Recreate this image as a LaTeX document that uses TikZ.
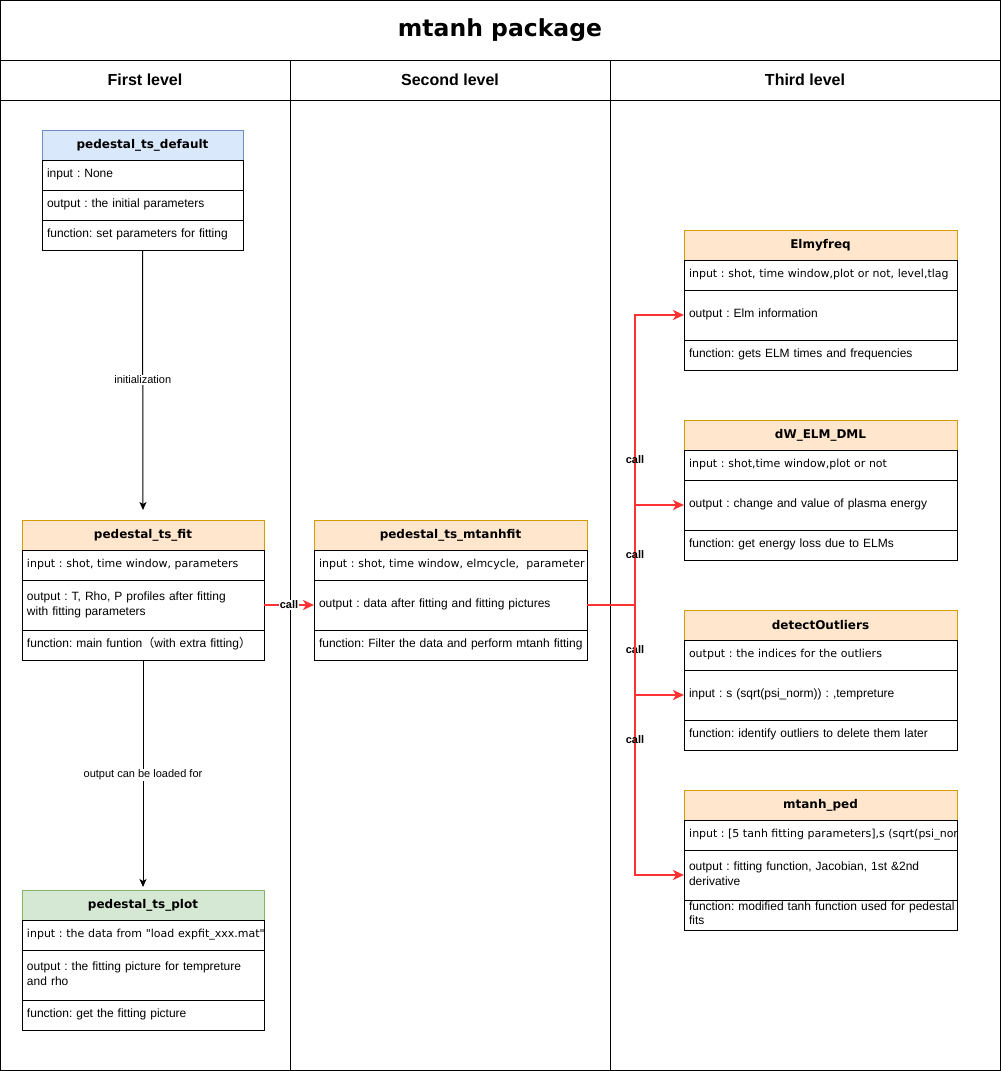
\documentclass[tikz,border=0pt]{standalone}
\usepackage{fontspec}
\setmainfont{Liberation Sans}
\newfontfamily\verdfont{DejaVu Sans}
\newfontfamily\cjkfont{Noto Sans CJK SC}
\usetikzlibrary{arrows.meta,positioning}
\frenchspacing

\definecolor{bluefill}{HTML}{DAE8FC}
\definecolor{bluedraw}{HTML}{6C8EBF}
\definecolor{orangefill}{HTML}{FFE6CC}
\definecolor{orangedraw}{HTML}{D79B00}
\definecolor{greenfill}{HTML}{D5E8D4}
\definecolor{greendraw}{HTML}{82B366}
\definecolor{callred}{HTML}{FF3333}

% one unbroken line (or lines split by \\) inside a row
\newcommand{\rowtxt}[1]{\begin{tabular}{@{}l@{}}#1\end{tabular}}

\tikzset{
  hdr/.style={draw=#1draw, fill=#1fill, line width=1pt, anchor=north west,
    inner sep=0pt, outer sep=0pt, minimum height=30pt,
    font=\verdfont\bfseries\fontsize{12}{14}\selectfont},
  row/.style={draw=black, fill=white, line width=1pt, anchor=north west,
    inner xsep=5pt, inner ysep=0pt, outer sep=0pt, align=left,
    minimum height=#1, font=\fontsize{12}{14.5}\selectfont},
  rowv/.style={row=#1, font=\verdfont\fontsize{11}{14}\selectfont},
  blackarrow/.style={draw=black, line width=1pt, -{Stealth[length=8pt,width=7pt,inset=2pt]}},
  callarrow/.style={draw=callred, line width=2pt, -{Stealth[length=11pt,width=10pt,inset=3pt]}},
  lbl/.style={fill=white, inner sep=1pt, font=\fontsize{11}{13}\selectfont},
  calllbl/.style={inner sep=1pt, font=\bfseries\fontsize{11}{13}\selectfont}
}

\begin{document}
\begin{tikzpicture}[x=1pt, y=-1pt]
\useasboundingbox (0,0) rectangle (1001,1071);

% frame and lanes
\draw[line width=1pt] (0.5,0.5) rectangle (1000.5,1070.5);
\draw[line width=1pt] (0.5,60.5) -- (1000.5,60.5);
\draw[line width=1pt] (0.5,100.5) -- (1000.5,100.5);
\draw[line width=1pt] (290.5,60.5) -- (290.5,1070.5);
\draw[line width=1pt] (610.5,60.5) -- (610.5,1070.5);

\node[font=\verdfont\bfseries\fontsize{23.5}{28}\selectfont] (title) at (500,30) {mtanh package};
\node[font=\bfseries\fontsize{16}{19}\selectfont] (lvlone) at (145,80) {First level};
\node[font=\bfseries\fontsize{16}{19}\selectfont] (lvltwo) at (450,80) {Second level};
\node[font=\bfseries\fontsize{16}{19}\selectfont] (lvlthree) at (805,80) {Third level};

% first level
\node[hdr=blue, minimum width=201pt] (dflt) at (42,130) {pedestal\_ts\_default};
\node[row=30pt, text width=191pt] (dfltin) at (dflt.south west) {\rowtxt{input : None}};
\node[row=30pt, text width=191pt] (dfltout) at (dfltin.south west) {\rowtxt{output : the initial parameters}};
\node[row=30pt, text width=191pt] (dfltfun) at (dfltout.south west) {\rowtxt{function: set parameters for fitting}};

\node[hdr=orange, minimum width=242pt] (fit) at (22,520) {pedestal\_ts\_fit};
\node[rowv=30pt, text width=232pt] (fitin) at (fit.south west) {\rowtxt{input : shot, time window, parameters}};
\node[row=50pt, text width=232pt] (fitout) at (fitin.south west) {\rowtxt{output : T, Rho, P profiles after fitting\\with fitting parameters}};
\node[row=30pt, text width=232pt] (fitfun) at (fitout.south west) {\rowtxt{function: main funtion{\cjkfont （}with extra fitting{\cjkfont ）}}};

\node[hdr=green, minimum width=242pt] (plot) at (22,890) {pedestal\_ts\_plot};
\node[rowv=30pt, text width=232pt] (plotin) at (plot.south west) {\rowtxt{input : the data from "load expfit\_xxx.mat"}};
\node[row=50pt, text width=232pt] (plotout) at (plotin.south west) {\rowtxt{output : the fitting picture for tempreture\\and rho}};
\node[row=30pt, text width=232pt] (plotfun) at (plotout.south west) {\rowtxt{function: get the fitting picture}};

% second level
\node[hdr=orange, minimum width=273pt] (mfit) at (314,520) {pedestal\_ts\_mtanhfit};
\node[rowv=30pt, text width=263pt] (mfitin) at (mfit.south west) {\rowtxt{input : shot, time window, elmcycle, \ parameter}};
\node[row=50pt, text width=263pt] (mfitout) at (mfitin.south west) {\rowtxt{output : data after fitting and fitting pictures}};
\node[row=30pt, text width=263pt] (mfitfun) at (mfitout.south west) {\rowtxt{function: Filter the data and perform mtanh fitting}};

% third level
\node[hdr=orange, minimum width=273pt] (elm) at (684,230) {Elmyfreq};
\node[rowv=30pt, text width=263pt] (elmin) at (elm.south west) {\rowtxt{input : shot, time window,plot or not, level,tlag}};
\node[row=50pt, text width=263pt] (elmout) at (elmin.south west) {\rowtxt{output : Elm information}};
\node[row=30pt, text width=263pt] (elmfun) at (elmout.south west) {\rowtxt{function: gets ELM times and frequencies}};

\node[hdr=orange, minimum width=273pt] (dw) at (684,420) {dW\_ELM\_DML};
\node[rowv=30pt, text width=263pt] (dwin) at (dw.south west) {\rowtxt{input : shot,time window,plot or not}};
\node[row=50pt, text width=263pt] (dwout) at (dwin.south west) {\rowtxt{output : change and value of plasma energy}};
\node[row=30pt, text width=263pt] (dwfun) at (dwout.south west) {\rowtxt{function: get energy loss due to ELMs}};

\node[hdr=orange, minimum width=273pt] (outl) at (684,610) {detectOutliers};
\node[rowv=30pt, text width=263pt] (outlout) at (outl.south west) {\rowtxt{output : the indices for the outliers}};
\node[row=50pt, text width=263pt] (outlin) at (outlout.south west) {\rowtxt{input : s (sqrt(psi\_norm)) : ,tempreture}};
\node[row=30pt, text width=263pt] (outlfun) at (outlin.south west) {\rowtxt{function: identify outliers to delete them later}};

\node[hdr=orange, minimum width=273pt] (ped) at (684,790) {mtanh\_ped};
\node[rowv=30pt, text width=263pt] (pedin) at (ped.south west) {};
\begin{scope}
\clip (pedin.north west) rectangle (pedin.south east);
\node[anchor=west, inner xsep=5pt, inner ysep=0pt, font=\verdfont\fontsize{11}{14}\selectfont] (pedintext) at (pedin.west) {input : [5 tanh fitting parameters],s (sqrt(psi\_norm))};
\end{scope}
\node[row=50pt, text width=263pt] (pedout) at (pedin.south west) {\rowtxt{output : fitting function, Jacobian, 1st \&2nd\\derivative}};
\node[row=30pt, text width=263pt, font=\fontsize{12}{13.5}\selectfont] (pedfun) at (pedout.south west) {\rowtxt{function: modified tanh function used for pedestal\\fits}};

% connectors
\draw[blackarrow, shorten >=10pt] (dfltfun.south) -- node[lbl, pos=0.48] {initialization} (fit.north);
\draw[blackarrow, shorten >=3pt] (fitfun.south) -- node[lbl] {output can be loaded for} (plot.north);
\draw[callarrow] (fitout.east) -- node[calllbl, fill=white] {call} (mfitout.west);

\coordinate (hub) at (635,605);
\draw[callarrow] (mfitout.east) -- (hub) |- node[calllbl, pos=0.25] {call} (elmout.west);
\draw[callarrow] (mfitout.east) -- (hub) |- node[calllbl, pos=0.25] {call} (dwout.west);
\draw[callarrow] (mfitout.east) -- (hub) |- node[calllbl, pos=0.25] {call} (outlin.west);
\draw[callarrow] (mfitout.east) -- (hub) |- node[calllbl, pos=0.25] {call} (pedout.west);

\end{tikzpicture}
\end{document}
